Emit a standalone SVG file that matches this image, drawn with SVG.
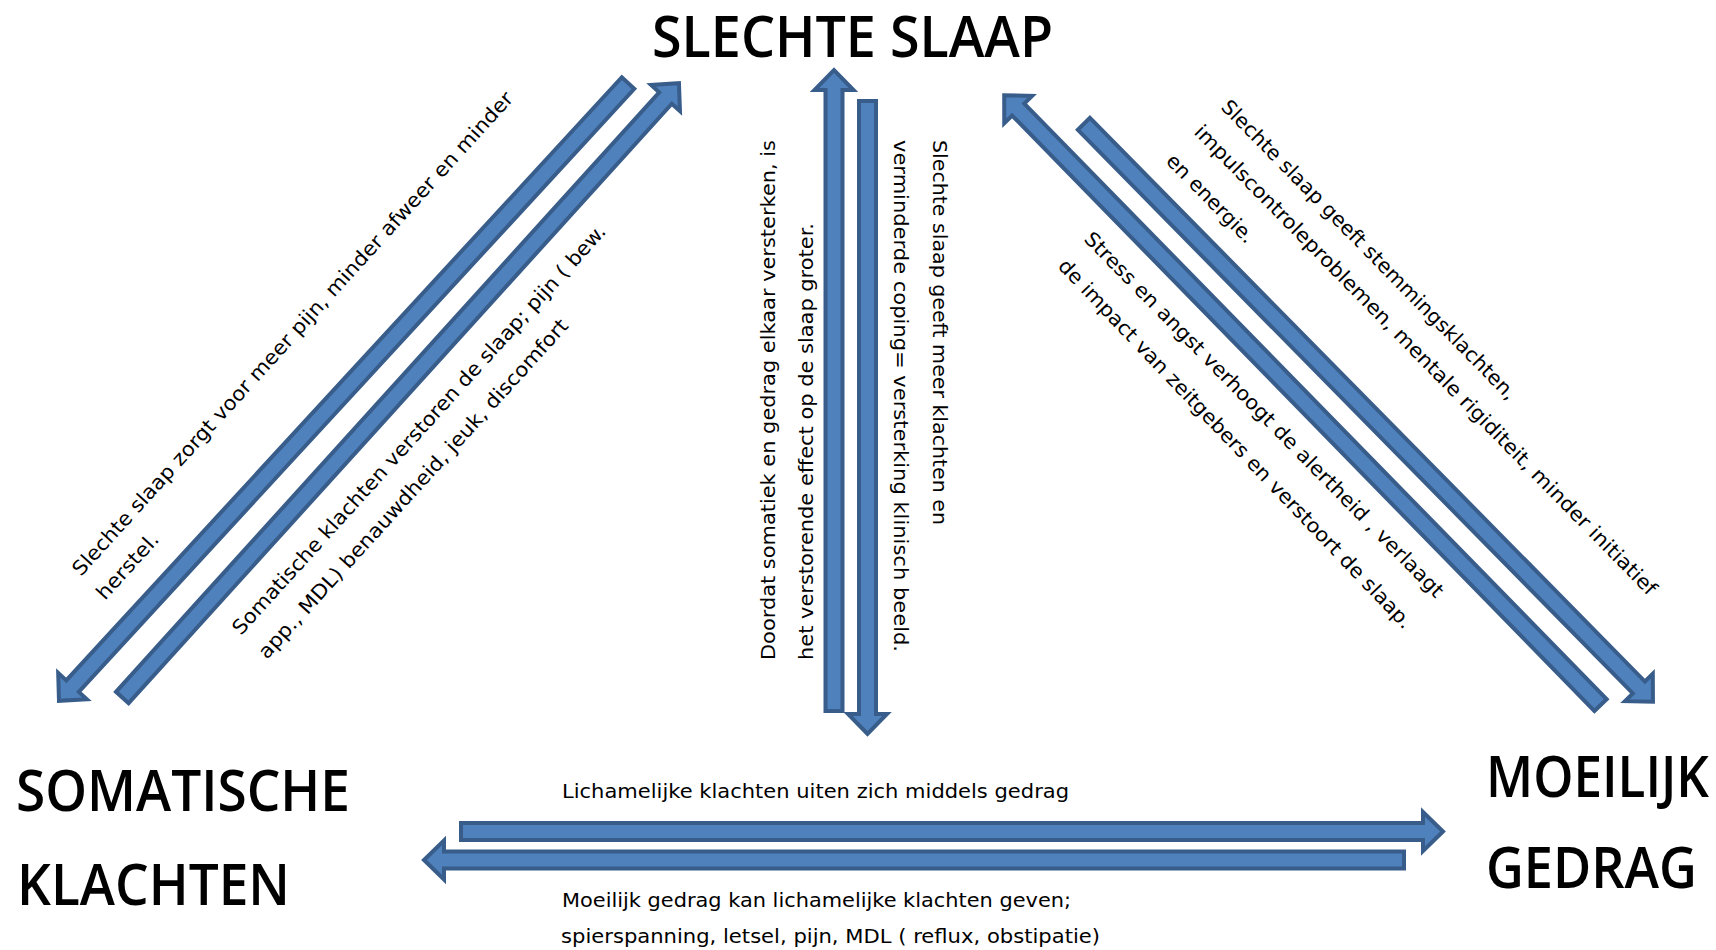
<svg xmlns="http://www.w3.org/2000/svg" width="1716" height="950" viewBox="0 0 1716 950">
  <style>
    .head { font-family: "Open Sans", "Liberation Sans", sans-serif; font-weight: 600; font-size: 57px; fill: #000; }
    .lbl { font-family: "DejaVu Sans", "Liberation Sans", sans-serif; font-size: 20px; fill: #000; }
    .arrow { fill: #4F81BD; stroke: #385D8A; stroke-width: 4; stroke-linejoin: miter; }
  </style>
  <rect width="1716" height="950" fill="#FFFFFF"/>

  <g id="node-slechte-slaap">
    <text class="head" x="652" y="57" textLength="401" lengthAdjust="spacingAndGlyphs">SLECHTE SLAAP</text>
  </g>
  <g id="node-somatische-klachten">
    <text class="head" x="16" y="811" textLength="334" lengthAdjust="spacingAndGlyphs">SOMATISCHE</text>
    <text class="head" x="17" y="905" textLength="273" lengthAdjust="spacingAndGlyphs">KLACHTEN</text>
  </g>
  <g id="node-moeilijk-gedrag">
    <text class="head" x="1486" y="797" textLength="223" lengthAdjust="spacingAndGlyphs">MOEILIJK</text>
    <text class="head" x="1486" y="888" textLength="211" lengthAdjust="spacingAndGlyphs">GEDRAG</text>
  </g>

  <g id="connectors">
    <!-- Slechte slaap -> Somatische klachten -->
    <g id="arrow-slaap-somatisch">
      <path class="arrow" transform="translate(628.1,83) rotate(132.65)" d="M0,-8.5 H820 V-19.5 L840,0 L820,19.5 V8.5 H0 Z"/>
      <text class="lbl" transform="translate(81,577) rotate(-47.8)" textLength="645" lengthAdjust="spacingAndGlyphs">Slechte slaap zorgt voor meer pijn, minder afweer en minder</text>
      <text class="lbl" transform="translate(105,601) rotate(-47.8)" textLength="82" lengthAdjust="spacingAndGlyphs">herstel.</text>
    </g>
    <!-- Somatische klachten -> Slechte slaap -->
    <g id="arrow-somatisch-slaap">
      <path class="arrow" transform="translate(122.3,697.5) rotate(-47.82)" d="M0,-8.5 H809 V-19.5 L829,0 L809,19.5 V8.5 H0 Z"/>
      <text class="lbl" transform="translate(241,636) rotate(-47.8)" textLength="545" lengthAdjust="spacingAndGlyphs">Somatische klachten verstoren de slaap; pijn ( bew.</text>
      <text class="lbl" transform="translate(267,660) rotate(-47.8)" textLength="450" lengthAdjust="spacingAndGlyphs">app., MDL) benauwdheid, jeuk, discomfort</text>
    </g>
    <!-- vertical up -->
    <g id="arrow-vertical-up">
      <path class="arrow" transform="translate(834,711) rotate(-90)" d="M0,-8.5 H621 V-19.5 L641,0 L621,19.5 V8.5 H0 Z"/>
      <text class="lbl" transform="translate(775,660) rotate(-90)" textLength="520" lengthAdjust="spacingAndGlyphs">Doordat somatiek en gedrag elkaar versterken, is</text>
      <text class="lbl" transform="translate(813,660) rotate(-90)" textLength="437" lengthAdjust="spacingAndGlyphs">het verstorende effect op de slaap groter.</text>
    </g>
    <!-- vertical down -->
    <g id="arrow-vertical-down">
      <path class="arrow" transform="translate(867.5,101) rotate(90)" d="M0,-8.5 H613 V-19.5 L633,0 L613,19.5 V8.5 H0 Z"/>
      <text class="lbl" transform="translate(933,140) rotate(90)" textLength="385" lengthAdjust="spacingAndGlyphs">Slechte slaap geeft meer klachten en</text>
      <text class="lbl" transform="translate(894,140) rotate(90)" textLength="512" lengthAdjust="spacingAndGlyphs">verminderde coping= versterking klinisch beeld.</text>
    </g>
    <!-- Moeilijk gedrag -> Slechte slaap -->
    <g id="arrow-gedrag-slaap">
      <path class="arrow" transform="translate(1600.6,705.1) rotate(-134.36)" d="M0,-8.5 H833 V-19.5 L853,0 L833,19.5 V8.5 H0 Z"/>
      <text class="lbl" transform="translate(1083,240) rotate(45.5)" textLength="503" lengthAdjust="spacingAndGlyphs">Stress en angst verhoogt de alertheid , verlaagt</text>
      <text class="lbl" transform="translate(1057,267) rotate(46.3)" textLength="502" lengthAdjust="spacingAndGlyphs">de impact van zeitgebers en verstoort de slaap.</text>
    </g>
    <!-- Slechte slaap -> Moeilijk gedrag -->
    <g id="arrow-slaap-gedrag">
      <path class="arrow" transform="translate(1083.9,123.9) rotate(45.44)" d="M0,-8.5 H791 V-19.5 L811,0 L791,19.5 V8.5 H0 Z"/>
      <text class="lbl" transform="translate(1220,108) rotate(45.5)" textLength="411" lengthAdjust="spacingAndGlyphs">Slechte slaap geeft stemmingsklachten,</text>
      <text class="lbl" transform="translate(1193,133) rotate(45.5)" textLength="650" lengthAdjust="spacingAndGlyphs">impulscontroleproblemen, mentale rigiditeit, minder initiatief</text>
      <text class="lbl" transform="translate(1165,162) rotate(45.5)" textLength="116" lengthAdjust="spacingAndGlyphs">en energie.</text>
    </g>
    <!-- Somatische klachten -> Moeilijk gedrag -->
    <g id="arrow-somatisch-gedrag">
      <path class="arrow" transform="translate(461,831.5)" d="M0,-8.5 H962 V-19.5 L982,0 L962,19.5 V8.5 H0 Z"/>
      <text class="lbl" x="562" y="798" textLength="507" lengthAdjust="spacingAndGlyphs">Lichamelijke klachten uiten zich middels gedrag</text>
    </g>
    <!-- Moeilijk gedrag -> Somatische klachten -->
    <g id="arrow-gedrag-somatisch">
      <path class="arrow" transform="translate(1404,860) rotate(180)" d="M0,-8.5 H960 V-19.5 L980,0 L960,19.5 V8.5 H0 Z"/>
      <text class="lbl" x="562" y="907" textLength="509" lengthAdjust="spacingAndGlyphs">Moeilijk gedrag kan lichamelijke klachten geven;</text>
      <text class="lbl" x="561" y="943" textLength="539" lengthAdjust="spacingAndGlyphs">spierspanning, letsel, pijn, MDL ( reflux, obstipatie)</text>
    </g>
  </g>
</svg>
